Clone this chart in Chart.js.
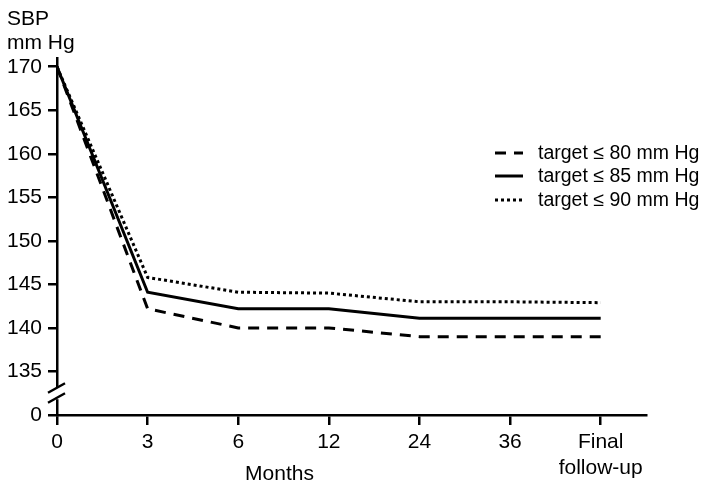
<!DOCTYPE html>
<html>
<head>
<meta charset="utf-8">
<script src="https://cdn.jsdelivr.net/npm/chart.js@4.4.0/dist/chart.umd.min.js"></script>
<style>
  html, body { margin: 0; padding: 0; background: #fff; }
  #wrap { width: 703px; height: 483px; }
</style>
</head>
<body>
<div id="wrap"><canvas id="c" width="703" height="483"></canvas></div>
<script>
// Follow-up visits (months)
const months = ['0', '3', '6', '12', '24', '36', ['Final', 'follow-up']];

// Mean systolic blood pressure (mm Hg) per diastolic target group
const target80 = [170, 142.2, 140.0, 140.0, 139.0, 139.0, 139.0];
const target85 = [170, 144.1, 142.2, 142.2, 141.1, 141.1, 141.1];
const target90 = [170, 145.8, 144.1, 144.0, 143.0, 143.0, 142.9];

const seriesLabels = ['target \u2264 80 mm Hg', 'target \u2264 85 mm Hg', 'target \u2264 90 mm Hg'];

// y ticks; the lowest one sits below the axis break and reads "0"
const yTickValues = [130, 135, 140, 145, 150, 155, 160, 165, 170];
const axisBreakValue = 130;

const FONT = '"Liberation Sans", Arial, Helvetica, sans-serif';
Chart.defaults.font.family = FONT;
Chart.defaults.color = '#000';

const toPoints = vals => vals.map((v, i) => ({ x: i, y: v }));

const lineStyle = (label, vals, dash) => ({
  label,
  data: toPoints(vals),
  borderColor: '#000',
  backgroundColor: '#000',
  borderWidth: 3,
  borderDash: dash,
  borderCapStyle: 'butt',
  pointRadius: 0,
  tension: 0,
  fill: false
});

// Axis break, inline legend and axis captions
const decorations = {
  id: 'decorations',
  afterDraw(chart) {
    const ctx = chart.ctx;
    const xs = chart.scales.x, ys = chart.scales.y;
    const axisX = chart.chartArea.left;

    // break on the y axis between 135 and the "0" tick
    const mid = (ys.getPixelForValue(135) + ys.getPixelForValue(axisBreakValue)) / 2;
    ctx.save();
    ctx.fillStyle = '#fff';
    ctx.fillRect(axisX - 4, mid - 6, 8, 12);
    ctx.strokeStyle = '#000';
    ctx.lineWidth = 2.5;
    [-5, 5].forEach(off => {
      ctx.beginPath();
      ctx.moveTo(axisX - 9, mid + off + 4.5);
      ctx.lineTo(axisX + 8, mid + off - 5);
      ctx.stroke();
    });
    ctx.restore();

    // legend
    ctx.save();
    const rows = [153, 176, 200];
    chart.data.datasets.forEach((ds, i) => {
      const y = rows[i];
      ctx.strokeStyle = ds.borderColor;
      ctx.lineWidth = ds.borderWidth;
      ctx.lineCap = 'butt';
      ctx.setLineDash(ds.borderDash || []);
      ctx.beginPath();
      ctx.moveTo(495, y);
      ctx.lineTo(523, y);
      ctx.stroke();
      ctx.setLineDash([]);
      ctx.fillStyle = '#000';
      ctx.font = '19.5px ' + FONT;
      ctx.textBaseline = 'middle';
      ctx.textAlign = 'left';
      ctx.fillText(ds.label, 538, y + 1);
    });
    ctx.restore();

    // y axis caption
    ctx.save();
    ctx.fillStyle = '#000';
    ctx.font = '21px ' + FONT;
    ctx.textAlign = 'left';
    ctx.textBaseline = 'alphabetic';
    ctx.fillText('SBP', 7, 25);
    ctx.fillText('mm Hg', 7, 49);

    // x axis caption
    ctx.textAlign = 'center';
    const mx = (xs.getPixelForValue(2) + xs.getPixelForValue(3)) / 2 - 4;
    ctx.fillText('Months', mx, 480);
    ctx.restore();
  }
};

new Chart(document.getElementById('c'), {
  type: 'line',
  data: {
    datasets: [
      lineStyle(seriesLabels[0], target80, [11, 8]),
      lineStyle(seriesLabels[1], target85, []),
      lineStyle(seriesLabels[2], target90, [3, 3])
    ]
  },
  options: {
    responsive: false,
    animation: false,
    devicePixelRatio: 1,
    layout: { padding: { top: 58, right: 57, bottom: 0, left: 0 } },
    plugins: {
      legend: { display: false },
      tooltip: { enabled: false }
    },
    scales: {
      x: {
        type: 'linear',
        min: 0,
        max: 6.5,
        afterBuildTicks: s => { s.ticks = months.map((_, i) => ({ value: i })); },
        afterFit: s => { s.height = 68; },
        grid: { drawOnChartArea: false, drawTicks: true, tickLength: 10, color: '#000', lineWidth: 2.5 },
        border: { display: true, color: '#000', width: 2.5 },
        ticks: {
          callback: v => months[v],
          font: { size: 21 },
          color: '#000',
          padding: 5,
          maxRotation: 0,
          autoSkip: false
        }
      },
      y: {
        type: 'linear',
        min: axisBreakValue,
        max: 171,
        afterBuildTicks: s => { s.ticks = yTickValues.map(v => ({ value: v })); },
        afterFit: s => { s.width = 57; },
        grid: { drawOnChartArea: false, drawTicks: true, tickLength: 9, color: '#000', lineWidth: 2.5 },
        border: { display: true, color: '#000', width: 2.5 },
        ticks: {
          callback: v => (v === axisBreakValue ? '0' : String(v)),
          font: { size: 21 },
          color: '#000',
          padding: 6,
          autoSkip: false
        }
      }
    }
  },
  plugins: [decorations]
});
</script>
</body>
</html>
